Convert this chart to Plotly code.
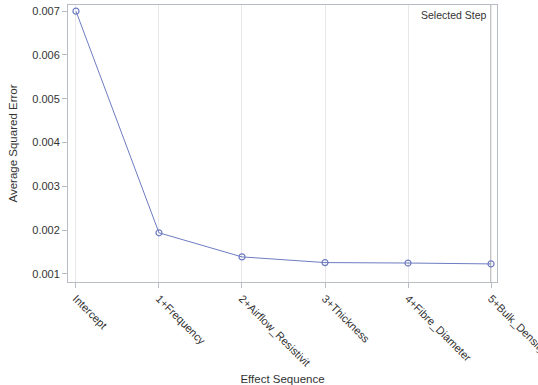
import plotly.graph_objects as go

steps = ["Intercept", "1+Frequency", "2+Airflow_Resistivit", "3+Thickness", "4+Fibre_Diameter", "5+Bulk_Density"]
ase = [0.00700, 0.00194, 0.00139, 0.00126, 0.00125, 0.00123]
yticks = [0.001, 0.002, 0.003, 0.004, 0.005, 0.006, 0.007]
ytick_text = ["0.001", "0.002", "0.003", "0.004", "0.005", "0.006", "0.007"]
selected_index = 5

xs = list(range(len(steps)))
col = "#6e7cc2"
axcol = "#b8bcc4"

fig = go.Figure()
fig.add_trace(go.Scatter(
    x=xs, y=ase, mode="lines+markers",
    line=dict(color=col, width=1),
    marker=dict(symbol="circle-open", size=6, color=col, line=dict(width=1.2, color=col)),
    showlegend=False, cliponaxis=False,
))
fig.add_shape(type="line", xref="x", yref="paper", x0=selected_index, x1=selected_index, y0=0, y1=1,
              line=dict(color="#b0b0b0", width=1.5), layer="below")
fig.add_annotation(x=selected_index, xref="x", y=1, yref="paper", xanchor="right", yanchor="top",
                   text="Selected Step", showarrow=False, xshift=-2, yshift=-2,
                   font=dict(family="Liberation Sans, Arial", size=10.5, color="#333333"))

fig.update_layout(
    width=538, height=385,
    margin=dict(l=68, r=41, t=5, b=103, autoexpand=False),
    paper_bgcolor="white", plot_bgcolor="white",
    font=dict(family="Liberation Sans, Arial", size=11, color="#333333"),
    xaxis=dict(
        range=[-0.096, 5.072], tickmode="array", tickvals=xs, ticktext=steps,
        tickangle=45, showgrid=True, gridcolor="#e8e8ec", gridwidth=1,
        showline=True, linecolor=axcol, mirror=True, ticks="outside", ticklen=5,
        tickcolor=axcol, zeroline=False, ticklabeloverflow="allow", automargin=False,
        title=dict(text="Effect Sequence", font=dict(size=11.5), standoff=8),
    ),
    yaxis=dict(
        range=[0.000817, 0.00714], tickmode="array", tickvals=yticks, ticktext=ytick_text,
        showgrid=False, showline=True, linecolor=axcol, mirror=True, ticks="outside",
        ticklen=5, tickcolor=axcol, zeroline=False, automargin=False,
        title=dict(text="Average Squared Error", font=dict(size=11.5), standoff=12),
    ),
)
fig.write_html("out.html")
